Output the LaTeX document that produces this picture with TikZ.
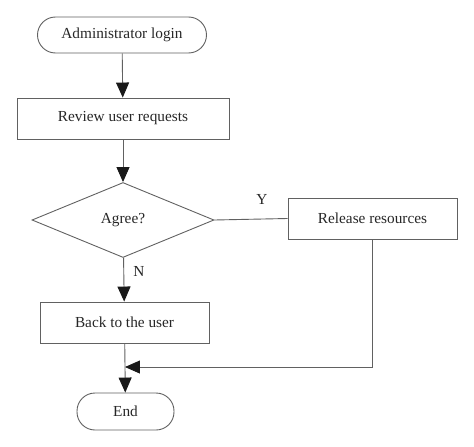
\documentclass[tikz,border=0pt]{standalone}
\usepackage{fontspec}
\setmainfont{Liberation Serif}
\usetikzlibrary{arrows.meta,shapes.geometric,calc,positioning}
\tikzset{
  >={Triangle[length=15pt,width=13pt]}
}

\begin{document}
\begin{tikzpicture}[x=1pt,y=-1pt,
    font=\fontsize{15.3}{18}\selectfont,
    line/.style={draw=black!62,line width=0.9pt},
    flow/.style={line,arrows={-{Triangle[length=15pt,width=13pt,color=black!90]}}},
    term/.style={line,rectangle,rounded corners=18pt,minimum height=36pt,text=black!85},
    proc/.style={line,rectangle,minimum width=169pt,minimum height=41pt,text=black!85},
    dec/.style={line,diamond,aspect=2.4,inner sep=0pt,minimum width=182pt,minimum height=75pt,text=black!85}
  ]
    \useasboundingbox (0,0) rectangle (474,447);
    \node (login) at (122,35) [term,minimum width=169pt] {Administrator login};
    \node (review) at (123,118.5) [proc,minimum width=212pt] {Review user requests};
    \node (agree) at (123,220) [dec] {Agree?};
    \node (release) at (372.5,218.5) [proc] {Release resources};
    \node (back) at (124.5,322.5) [proc] {Back to the user};
    \node (end) at (125.5,411.5) [term,minimum width=97pt,minimum height=37pt] {End};
    \node (yes) at (262,199) [text=black!85] {Y};
    \node (no) at (139,271) [text=black!85] {N};
    \coordinate (join) at ($(back.south)!0.48!(end.north)$);

    \draw[flow] (login) -- (review);
    \draw[flow] (review) -- (agree);
    \draw[line] (agree.east) -- (release.west);
    \draw[flow] (agree) -- (back);
    \draw[flow] (back) -- (end);
    \draw[flow] (release.south) |- (join);

  \end{tikzpicture}
\end{document}
